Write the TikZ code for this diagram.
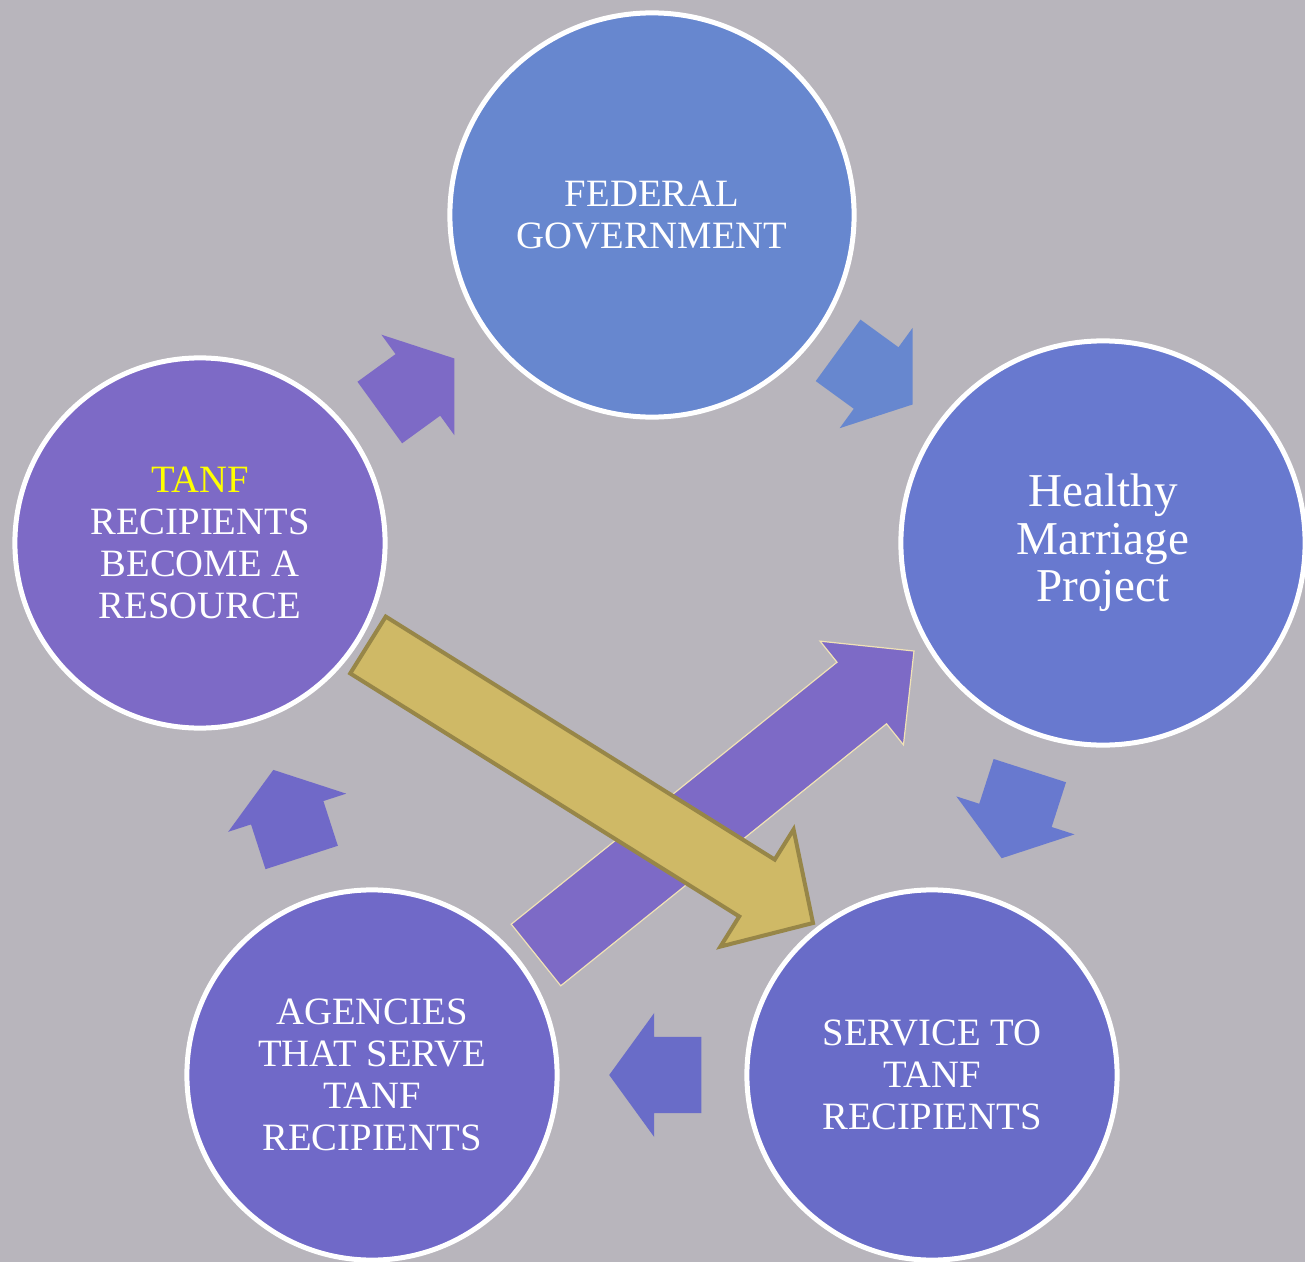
\documentclass[tikz,border=0pt]{standalone}
\usepackage{fontspec}
\setmainfont{Liberation Serif}
\usetikzlibrary{calc}
\usepackage{xcolor}

\definecolor{bgcol}{HTML}{B8B5BC}
\definecolor{fedcol}{HTML}{6787CF}
\definecolor{hmpcol}{HTML}{6879CF}
\definecolor{svccol}{HTML}{696CC8}
\definecolor{agccol}{HTML}{7069C8}
\definecolor{tanfcol}{HTML}{7D6AC6}
\definecolor{goldcol}{HTML}{CFB966}
\definecolor{golddark}{HTML}{978648}
\definecolor{creamcol}{HTML}{F0E2B6}
\definecolor{tanfyellow}{HTML}{FFFF00}

\tikzset{
        stage/.style={circle, draw=white, line width=0.05cm, text=white,
                align=center, inner sep=0pt,
                font=\fontsize{11}{11.9}\selectfont},
        bigstage/.style={stage, font=\fontsize{13.4}{13.5}\selectfont}
}

% block arrow from #2 to #3: shaft half width #4, head half width #5, head length #6
\newcommand{\cyclearrow}[6][]{%
        \coordinate (ca-n) at ($(#3)!#6!(#2)$);
        \path[#1] ($(#2)!#4!90:(#3)$) -- ($(ca-n)!#4!90:(#3)$)
                -- ($(ca-n)!#5!90:(#3)$) -- (#3)
                -- ($(ca-n)!#5!-90:(#3)$) -- ($(ca-n)!#4!-90:(#3)$)
                -- ($(#2)!#4!-90:(#3)$) -- cycle;
}

\begin{document}
\begin{tikzpicture}[x=0.01cm, y=0.01cm]
        \useasboundingbox (0,0) rectangle (1305,1262);
        \clip (0,0) rectangle (1305,1262);
        \fill[bgcol] (0,0) rectangle (1305,1262);

        \node [stage, fill=fedcol, minimum size=4.04cm] (fed) at (652,1047) {FEDERAL\\GOVERNMENT};
        \node [bigstage, fill=hmpcol, minimum size=4.04cm] (hmp) at (1103,719) {Healthy\\Marriage\\Project};
        \node [stage, fill=svccol, minimum size=3.70cm] (svc) at (932,187) {SERVICE TO\\TANF\\RECIPIENTS};
        \node [stage, fill=agccol, minimum size=3.70cm] (agc) at (372,187) {AGENCIES\\THAT SERVE\\TANF\\RECIPIENTS};
        \node [stage, fill=tanfcol, minimum size=3.70cm] (tanf) at (200,719) {\textcolor{tanfyellow}{TANF}\\RECIPIENTS\\BECOME A\\RESOURCE};

        % arrows round the cycle
        \foreach \a/\b/\c/\p in {tanf/fed/tanfcol/0.482, fed/hmp/fedcol/0.497, hmp/svc/hmpcol/0.512, svc/agc/svccol/0.496, agc/tanf/agccol/0.493} {
                \coordinate (mid) at ($(\a)!\p!(\b)$);
                \coordinate (\a-s) at ($(mid)!0.47cm!(\a)$);
                \coordinate (\a-t) at ($(mid)!0.45cm!(\b)$);
                \cyclearrow[fill=\c]{\a-s}{\a-t}{0.38cm}{0.62cm}{0.45cm}
        }

        % crossing arrows
        \coordinate (hmtail) at (536,307);
        \coordinate (hmtip) at (914,611);
        \cyclearrow[fill=tanfcol, draw=creamcol, line width=0.012cm]{hmtail}{hmtip}{0.395cm}{0.665cm}{0.67cm}

        \coordinate (svtail) at (368,617);
        \coordinate (svtip) at (813,339);
        \cyclearrow[fill=goldcol, draw=golddark, line width=0.04cm]{svtail}{svtip}{0.335cm}{0.69cm}{0.66cm}
\end{tikzpicture}
\end{document}
